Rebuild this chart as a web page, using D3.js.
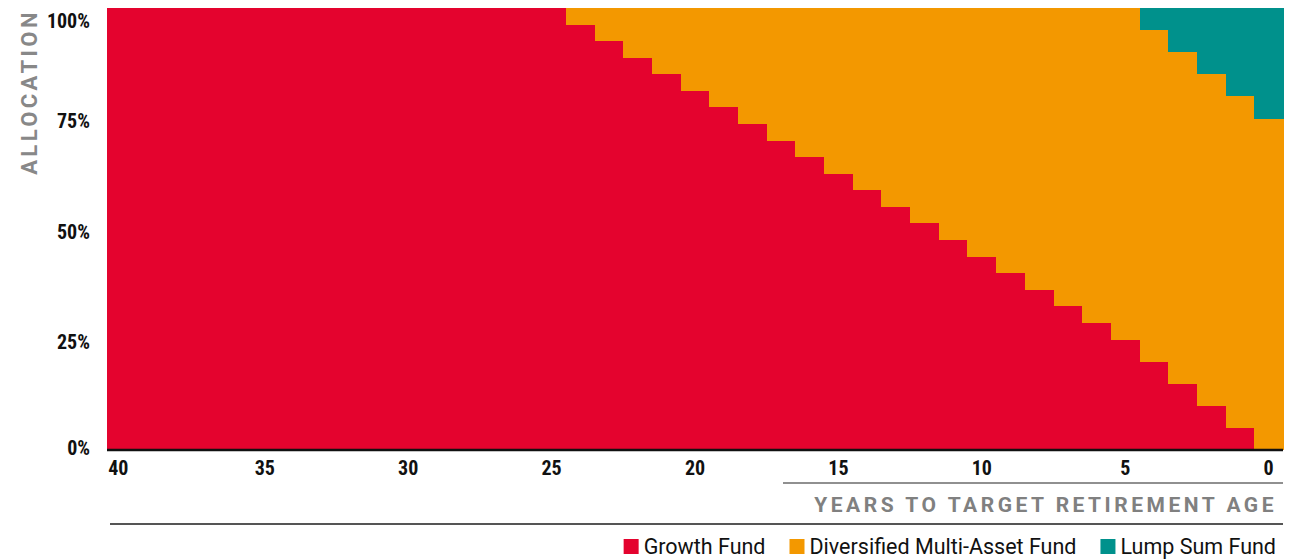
<!DOCTYPE html>
<html>
<head>
<meta charset="utf-8">
<script src="https://cdn.jsdelivr.net/npm/d3@7"></script>
<style>
  body { margin: 0; background: #fff; }
  svg { display: block; }
</style>
</head>
<body>
<div id="chart"></div>
<script>
// years to target retirement age, 40 down to 0
const years = d3.range(40, -1, -1);

// allocation in % for each year (same order as years)
const growthFund = [
  100, 100, 100, 100, 100, 100, 100, 100, 100, 100,
  100, 100, 100, 100, 100, 100,
  96.25, 92.5, 88.75, 85, 81.25, 77.5, 73.75, 70, 66.25, 62.5,
  58.75, 55, 51.25, 47.5, 43.75, 40, 36.25, 32.5, 28.75, 25,
  20, 15, 10, 5, 0
];
const lumpSumFund = [
  0, 0, 0, 0, 0, 0, 0, 0, 0, 0,
  0, 0, 0, 0, 0, 0, 0, 0, 0, 0,
  0, 0, 0, 0, 0, 0, 0, 0, 0, 0,
  0, 0, 0, 0, 0, 0,
  5, 10, 15, 20, 25
];
const multiAssetFund = growthFund.map((g, i) => 100 - g - lumpSumFund[i]);

const seriesNames = ["Growth Fund", "Diversified Multi-Asset Fund", "Lump Sum Fund"];
const seriesColors = ["#e4032e", "#f39800", "#00918c"];
const xTicks = [40, 35, 30, 25, 20, 15, 10, 5, 0];
const yTicks = [0, 25, 50, 75, 100];

const W = 1294, H = 559;
const margin = { left: 107, right: 11, top: 8, bottom: 109 };

const svg = d3.select("#chart").append("svg")
  .attr("width", W).attr("height", H);

const x = d3.scaleBand()
  .domain(years)
  .range([margin.left, W - margin.right])
  .padding(0);

const y = d3.scaleLinear()
  .domain([0, 100])
  .range([H - margin.bottom, margin.top]);

const color = d3.scaleOrdinal().domain(seriesNames).range(seriesColors);

const rows = years.map((yr, i) => ({
  year: yr,
  "Growth Fund": growthFund[i],
  "Diversified Multi-Asset Fund": multiAssetFund[i],
  "Lump Sum Fund": lumpSumFund[i]
}));

const stack = d3.stack().keys(seriesNames)(rows);

svg.append("g")
  .selectAll("g")
  .data(stack)
  .enter()
  .append("g")
  .attr("fill", d => color(d.key))
  .selectAll("rect")
  .data(d => d)
  .enter()
  .append("rect")
  .attr("x", d => x(d.data.year))
  .attr("width", x.bandwidth() + 0.5)
  .attr("y", d => y(d[1]))
  .attr("height", d => y(d[0]) - y(d[1]))
  .attr("shape-rendering", "crispEdges");

const tickFont = "'Liberation Sans Narrow', 'Roboto Condensed', Roboto, sans-serif";

// x axis
const xAxis = svg.append("g")
  .attr("transform", `translate(0,${y(0)})`)
  .call(d3.axisBottom(x).tickValues(xTicks).tickSize(0).tickPadding(11));
xAxis.select(".domain").attr("stroke", "#111").attr("stroke-width", 2.5)
  .attr("d", `M${margin.left},0H${W - margin.right}`);
xAxis.selectAll("text")
  .attr("font-family", tickFont)
  .attr("font-weight", "bold")
  .attr("font-size", 20)
  .attr("fill", "#111")
  .attr("dx", d => d === 40 ? -3 : 0);

// y axis
const yAxis = svg.append("g")
  .attr("transform", `translate(${margin.left},0)`)
  .call(d3.axisLeft(y).tickValues(yTicks).tickFormat(d => d + "%").tickSize(0).tickPadding(17));
yAxis.select(".domain").remove();
yAxis.selectAll("text")
  .attr("font-family", tickFont)
  .attr("font-weight", "bold")
  .attr("font-size", 20)
  .attr("fill", "#111")
  .attr("dy", d => d === 100 ? "0.95em" : d === 0 ? "0.2em" : "0.45em");

// y label
svg.append("text")
  .attr("transform", `translate(37,92) rotate(-90)`)
  .attr("text-anchor", "middle")
  .attr("font-family", "Roboto, sans-serif")
  .attr("font-weight", "bold")
  .attr("font-size", 22)
  .attr("letter-spacing", 3.4)
  .attr("fill", "#888")
  .text("ALLOCATION");

// x label with rules
svg.append("line")
  .attr("x1", 783).attr("x2", W - margin.right)
  .attr("y1", 483).attr("y2", 483)
  .attr("stroke", "#222").attr("stroke-width", 1.2);

svg.append("text")
  .attr("x", 1277).attr("y", 512)
  .attr("text-anchor", "end")
  .attr("font-family", "Roboto, sans-serif")
  .attr("font-weight", "bold")
  .attr("font-size", 21)
  .attr("letter-spacing", 3.5)
  .attr("fill", "#808080")
  .text("YEARS TO TARGET RETIREMENT AGE");

svg.append("line")
  .attr("x1", 110).attr("x2", 1283)
  .attr("y1", 524).attr("y2", 524)
  .attr("stroke", "#555").attr("stroke-width", 2);

// legend, right aligned
const legend = svg.append("g").attr("id", "legend");
const items = legend.selectAll("g")
  .data(seriesNames)
  .enter()
  .append("g");
items.append("rect")
  .attr("width", 15).attr("height", 15)
  .attr("y", 539)
  .attr("fill", d => color(d));
items.append("text")
  .attr("x", 20).attr("y", 554)
  .attr("font-family", "Roboto, sans-serif")
  .attr("font-size", 21.5)
  .attr("fill", "#111")
  .text(d => d);

let right = 1276;
const nodes = items.nodes().reverse();
nodes.forEach(n => {
  const w = n.querySelector("text").getComputedTextLength() + 20;
  right -= w;
  d3.select(n).attr("transform", `translate(${right},0)`);
  right -= 24;
});
</script>
</body>
</html>
